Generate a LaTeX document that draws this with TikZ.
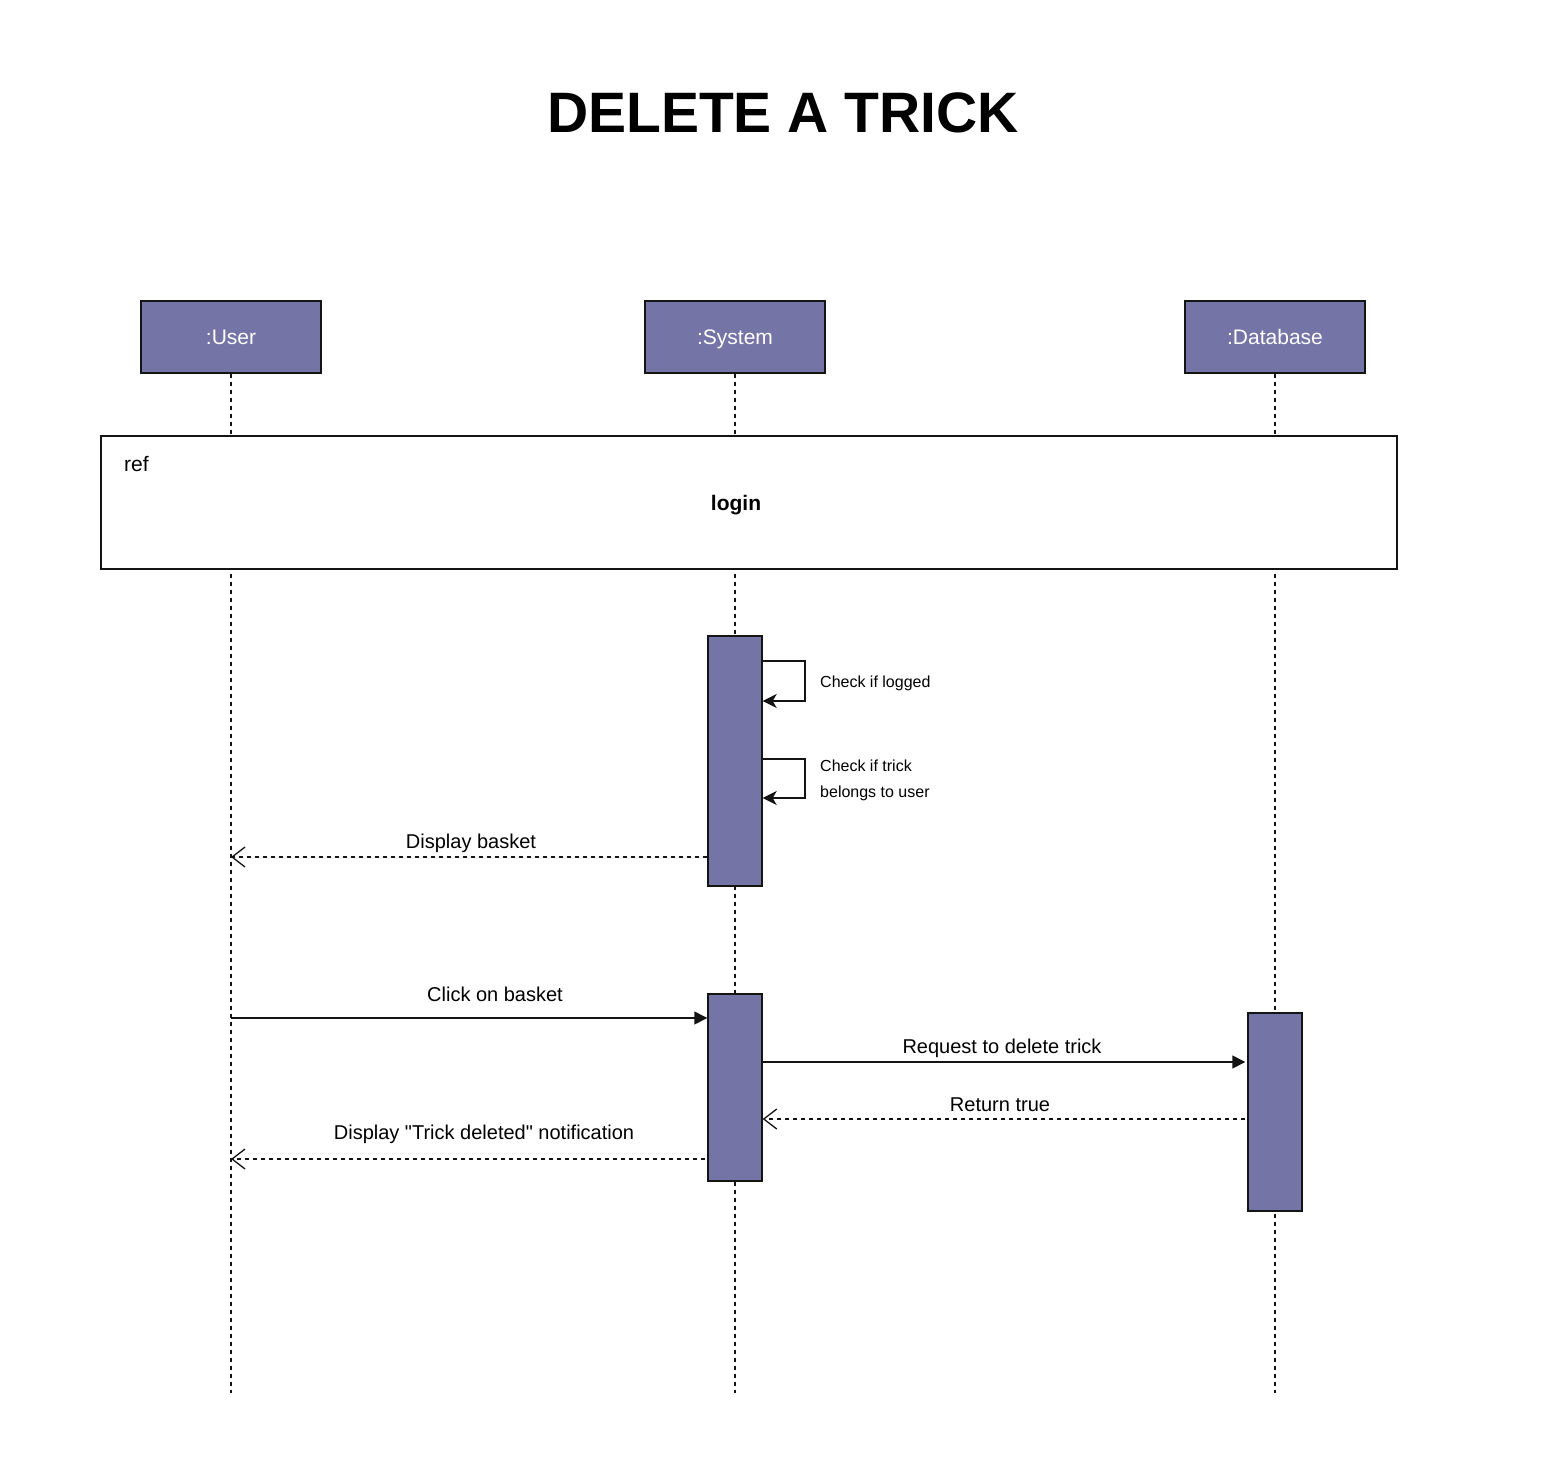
\documentclass[tikz,border=0pt]{standalone}
\usepackage{fontspec}
\setmainfont{Liberation Sans}
\usetikzlibrary{arrows.meta,calc}
\definecolor{actfill}{RGB}{116,117,166}
\definecolor{edge}{RGB}{20,20,20}
\newcommand\straightdq{\XeTeXglyph\the\XeTeXcharglyph"22\relax}
\begin{document}
\begin{tikzpicture}[x=1pt,y=-1pt,
  actor/.style={draw=edge,fill=actfill,text=white,line width=1.4pt,minimum width=180pt,minimum height=72pt,inner sep=0pt,text height=19pt,text depth=4pt,font=\fontsize{21}{25}\selectfont},
  lifeline/.style={draw=edge,line width=1.3pt,dash pattern=on 4pt off 4pt},
  activation/.style={draw=edge,fill=actfill,line width=1.4pt,minimum width=54pt,inner sep=0pt},
  frame/.style={draw=edge,fill=white,line width=1.4pt,minimum width=1296pt,minimum height=133pt,inner sep=0pt},
  call/.style={draw=edge,line width=1.4pt,-{Triangle[length=13pt,width=13pt]}},
  selfcall/.style={draw=edge,line width=1.4pt,-{Stealth[length=14pt,width=14pt,inset=4pt]}},
  reply/.style={draw=edge,line width=1.3pt,dash pattern=on 4pt off 4pt,-{Straight Barb[length=13pt,width=20pt,line width=1.3pt]}},
  lbl/.style={font=\fontsize{20}{24}\selectfont,inner sep=0pt,anchor=base},
  small/.style={font=\fontsize{16}{26}\selectfont,inner sep=0pt,anchor=west,align=left}]
\useasboundingbox (0,0) rectangle (1556,1468);

% title
\node[font=\fontsize{57}{68}\selectfont\bfseries,inner sep=0pt] (title) at (783,113) {DELETE A TRICK};

% actors
\node[actor] (user) at (231,337) {:User};
\node[actor] (sys) at (735,337) {:System};
\node[actor] (db) at (1275,337) {:Database};

% lifelines
\coordinate (userend) at (231,1393);
\coordinate (sysend) at (735,1393);
\coordinate (dbend) at (1275,1393);
\draw[lifeline] (user.south) -- (userend);
\draw[lifeline] (sys.south) -- (sysend);
\draw[lifeline] (db.south) -- (dbend);

% ref frame
\node[frame] (ref) at (749,502.5) {};
\node[font=\fontsize{21}{25}\selectfont,inner sep=0pt,anchor=base west] (reflbl) at (124,471) {ref};
\node[font=\fontsize{21}{25}\selectfont\bfseries,inner sep=0pt,anchor=base] (login) at (736,510) {login};

% activations
\node[activation,minimum height=250pt] (a1) at (735,761) {};
\node[activation,minimum height=187pt] (a2) at (735,1087.5) {};
\node[activation,minimum height=198pt] (a3) at (1275,1112) {};

% self calls
\coordinate (s1) at (805,661);
\coordinate (s1b) at (805,701);
\draw[selfcall] (a1.east |- s1) -- (s1) -- (s1b) -- (a1.east |- s1b);
\node[small] (s1lbl) at (820,683) {Check if logged};
\coordinate (s2) at (805,759);
\coordinate (s2b) at (805,798);
\draw[selfcall] (a1.east |- s2) -- (s2) -- (s2b) -- (a1.east |- s2b);
\node[small] (s2lbl) at (820,780) {Check if trick\\belongs to user};

% messages
\coordinate (m1) at (0,857);
\draw[reply] (a1.west |- m1) -- (user |- m1) node[lbl] at (471,848) {Display basket};

\coordinate (m2) at (0,1018);
\draw[call] (user |- m2) -- (a2.west |- m2) node[lbl] at (495,1001) {Click on basket};

\coordinate (m3) at (0,1062);
\draw[call] (a2.east |- m3) -- ($(a3.west |- m3)+(-2,0)$) node[lbl] at (1002,1053) {Request to delete trick};

\coordinate (m4) at (0,1119);
\draw[reply] ($(a3.west |- m4)+(-2,0)$) -- (a2.east |- m4) node[lbl] at (1000,1111) {Return true};

\coordinate (m5) at (0,1159);
\draw[reply] ($(a2.west |- m5)+(-2,0)$) -- (user |- m5) node[lbl] at (484,1139) {Display \straightdq Trick deleted\straightdq{} notification};
\end{tikzpicture}
\end{document}
